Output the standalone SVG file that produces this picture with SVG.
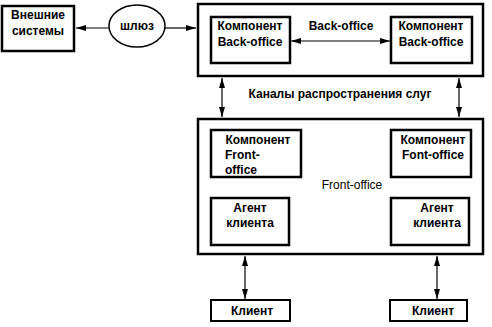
<svg xmlns="http://www.w3.org/2000/svg" width="492" height="327" viewBox="0 0 492 327">
<defs>
<marker id="ah" viewBox="0 0 10 6" refX="10" refY="3" markerWidth="10" markerHeight="6" markerUnits="userSpaceOnUse" orient="auto-start-reverse">
<path d="M0,0 L10,3 L0,6 Z" fill="#000"/>
</marker>
<style>
.box{fill:#fff;stroke:#000;stroke-width:2.5}
.thin{fill:#fff;stroke:#000;stroke-width:2}
.t{font-family:"Liberation Sans",Arial,sans-serif;font-size:12px;font-weight:bold;fill:#000;text-anchor:middle}
.n{font-weight:normal}
.c{stroke:#000;stroke-width:1.2;fill:none;marker-start:url(#ah);marker-end:url(#ah)}
.c1{stroke:#000;stroke-width:1.2;fill:none;marker-end:url(#ah)}
</style>
</defs>
<rect width="492" height="327" fill="#fff"/>
<g id="ext">
<rect class="box" x="2" y="6" width="72" height="45"/>
<text class="t" x="38" y="19">Внешние</text>
<text class="t" x="38" y="35">системы</text>
</g>
<g id="gateway">
<ellipse cx="137" cy="26" rx="28" ry="21" fill="#fff" stroke="#000" stroke-width="1.5"/>
<text class="t" x="137" y="30">шлюз</text>
</g>
<g id="backoffice">
<rect class="box" x="198" y="4" width="285" height="72"/>
<text class="t" x="341" y="30">Back-office</text>
</g>
<g id="bo1">
<rect class="box" x="211" y="17" width="79" height="46"/>
<text class="t" x="250" y="30">Компонент</text>
<text class="t" x="250" y="46">Back-office</text>
</g>
<g id="bo2">
<rect class="box" x="391" y="17" width="81" height="46"/>
<text class="t" x="431" y="30">Компонент</text>
<text class="t" x="431" y="46">Back-office</text>
</g>
<g id="channels">
<text class="t" x="340" y="98">Каналы распространения слуг</text>
</g>
<g id="frontoffice">
<rect class="box" x="198" y="119" width="285" height="135"/>
<text class="t n" x="352" y="189">Front-office</text>
</g>
<g id="fo1">
<rect class="box" x="211" y="130" width="90" height="47"/>
<text class="t" x="258" y="144">Компонент</text>
<text class="t" x="225" y="159" style="text-anchor:start">Front-</text>
<text class="t" x="225" y="174" style="text-anchor:start">office</text>
</g>
<g id="fo2">
<rect class="box" x="391" y="130" width="80" height="47"/>
<text class="t" x="433" y="144">Компонент</text>
<text class="t" x="433" y="159">Font-office</text>
</g>
<g id="agent1">
<rect class="box" x="211" y="198" width="78" height="47"/>
<text class="t" x="250" y="212">Агент</text>
<text class="t" x="250" y="227">клиента</text>
</g>
<g id="agent2">
<rect class="box" x="391" y="198" width="78" height="47"/>
<text class="t" x="437" y="212">Агент</text>
<text class="t" x="437" y="227">клиента</text>
</g>
<g id="client1">
<rect class="thin" x="211" y="300" width="79" height="21"/>
<text class="t" x="252" y="315">Клиент</text>
</g>
<g id="client2">
<rect class="thin" x="390" y="300" width="77" height="21"/>
<text class="t" x="433" y="315">Клиент</text>
</g>
<g id="connectors">
<line class="c1" x1="109" y1="28" x2="76" y2="28"/>
<line class="c1" x1="165" y1="28" x2="196" y2="28"/>
<line class="c" x1="291" y1="41" x2="390" y2="41"/>
<line class="c" x1="222" y1="78" x2="222" y2="117"/>
<line class="c" x1="459" y1="78" x2="459" y2="117"/>
<line class="c" x1="245" y1="256" x2="245" y2="299"/>
<line class="c" x1="437" y1="256" x2="437" y2="299"/>
</g>
</svg>
